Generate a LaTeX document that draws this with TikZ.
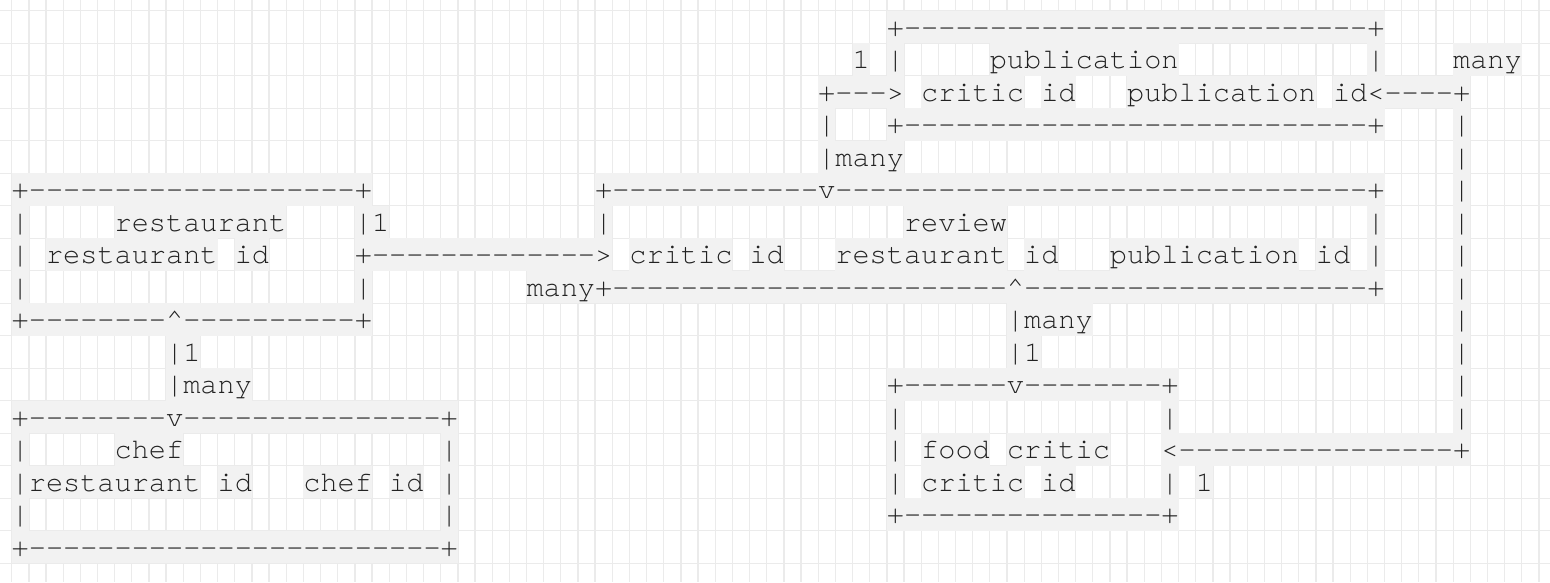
\documentclass[tikz,border=0pt]{standalone}
\usepackage{fontspec}
\setmonofont{TeX Gyre Cursor}
\definecolor{cellbg}{HTML}{F2F2F2}
\definecolor{gridc}{HTML}{EBEBEB}
\definecolor{ink}{HTML}{222222}
\tikzset{
  gridline/.style={draw=gridc, line width=1.3pt},
  cellfill/.style={fill=cellbg},
  txt/.style={anchor=base west, inner sep=0pt, outer sep=0pt, text=ink,
    font=\ttfamily\fontsize{28.6}{32}\selectfont},
}
\ExplSyntaxOn
\int_new:N \l_asc_col_int
\tl_new:N \l_asc_x_tl
\tl_new:N \l_asc_y_tl
\str_new:N \l_asc_str
\cs_new:Npn \dsh #1 { \prg_replicate:nn {#1} {-} }
\NewDocumentCommand \ascrun { m m m }
  {
    \str_set:Nx \l_asc_str {#3}
    \int_set:Nn \l_asc_col_int {#1}
    \tl_set:Nx \l_asc_y_tl { \fp_eval:n { 10.7 + 32.5 * (#2) } }
    \str_map_inline:Nn \l_asc_str
      {
        \str_if_eq:nnF {##1} {~}
          {
            \tl_set:Nx \l_asc_x_tl { \fp_eval:n { 11.7 + 17.16 * \l_asc_col_int } }
            \fill[cellfill] (\l_asc_x_tl, \l_asc_y_tl) rectangle ++(17.16, 32.5);
          }
        \int_incr:N \l_asc_col_int
      }
    \tl_set:Nx \l_asc_x_tl { \fp_eval:n { 11.7 + 17.16 * (#1) } }
    \tl_set:Nx \l_asc_y_tl { \fp_eval:n { 36.2 + 32.5 * (#2) } }
    \node[txt] (t#2-#1) at (\l_asc_x_tl, \l_asc_y_tl)
      { \str_map_inline:Nn \l_asc_str { \str_if_eq:nnTF {##1} {^} {\textasciicircum} {##1} } };
  }
\ExplSyntaxOff
\begin{document}
\begin{tikzpicture}[x=1pt,y=-1pt]
\useasboundingbox (0,0) rectangle (1550,582);
\fill[white] (0,0) rectangle (1550,582);
\foreach \k in {0,...,89} \draw[gridline] ({11.7+17.16*\k},0) -- ++(0,582);
\foreach \k in {0,...,17} \draw[gridline] (0,{10.7+32.5*\k}) -- ++(1550,0);
% row 0
\ascrun{51}{0}{+\dsh{27}+}
% row 1
\ascrun{49}{1}{1}\ascrun{51}{1}{|}\ascrun{57}{1}{publication}\ascrun{79}{1}{|}\ascrun{84}{1}{many}
% row 2
\ascrun{47}{2}{+\dsh{3}>}\ascrun{53}{2}{critic id}\ascrun{65}{2}{publication id<\dsh{4}+}
% row 3
\ascrun{47}{3}{|}\ascrun{51}{3}{+\dsh{27}+}\ascrun{84}{3}{|}
% row 4
\ascrun{47}{4}{|many}\ascrun{84}{4}{|}
% row 5
\ascrun{0}{5}{+\dsh{19}+}\ascrun{34}{5}{+\dsh{12}v\dsh{31}+}\ascrun{84}{5}{|}
% row 6
\ascrun{0}{6}{|}\ascrun{6}{6}{restaurant}\ascrun{20}{6}{|1}\ascrun{34}{6}{|}\ascrun{52}{6}{review}\ascrun{79}{6}{|}\ascrun{84}{6}{|}
% row 7
\ascrun{0}{7}{|}\ascrun{2}{7}{restaurant id}\ascrun{20}{7}{+\dsh{13}>}\ascrun{36}{7}{critic id}\ascrun{48}{7}{restaurant id}\ascrun{64}{7}{publication id}\ascrun{79}{7}{|}\ascrun{84}{7}{|}
% row 8
\ascrun{0}{8}{|}\ascrun{20}{8}{|}\ascrun{30}{8}{many+\dsh{23}^\dsh{20}+}\ascrun{84}{8}{|}
% row 9
\ascrun{0}{9}{+\dsh{8}^\dsh{10}+}\ascrun{58}{9}{|many}\ascrun{84}{9}{|}
% row 10
\ascrun{9}{10}{|1}\ascrun{58}{10}{|1}\ascrun{84}{10}{|}
% row 11
\ascrun{9}{11}{|many}\ascrun{51}{11}{+\dsh{6}v\dsh{8}+}\ascrun{84}{11}{|}
% row 12
\ascrun{0}{12}{+\dsh{8}v\dsh{15}+}\ascrun{51}{12}{|}\ascrun{67}{12}{|}\ascrun{84}{12}{|}
% row 13
\ascrun{0}{13}{|}\ascrun{6}{13}{chef}\ascrun{25}{13}{|}\ascrun{51}{13}{|}\ascrun{53}{13}{food critic}\ascrun{67}{13}{<\dsh{16}+}
% row 14
\ascrun{0}{14}{|restaurant id}\ascrun{17}{14}{chef id}\ascrun{25}{14}{|}\ascrun{51}{14}{|}\ascrun{53}{14}{critic id}\ascrun{67}{14}{|}\ascrun{69}{14}{1}
% row 15
\ascrun{0}{15}{|}\ascrun{25}{15}{|}\ascrun{51}{15}{+\dsh{15}+}
% row 16
\ascrun{0}{16}{+\dsh{24}+}
\end{tikzpicture}
\end{document}
